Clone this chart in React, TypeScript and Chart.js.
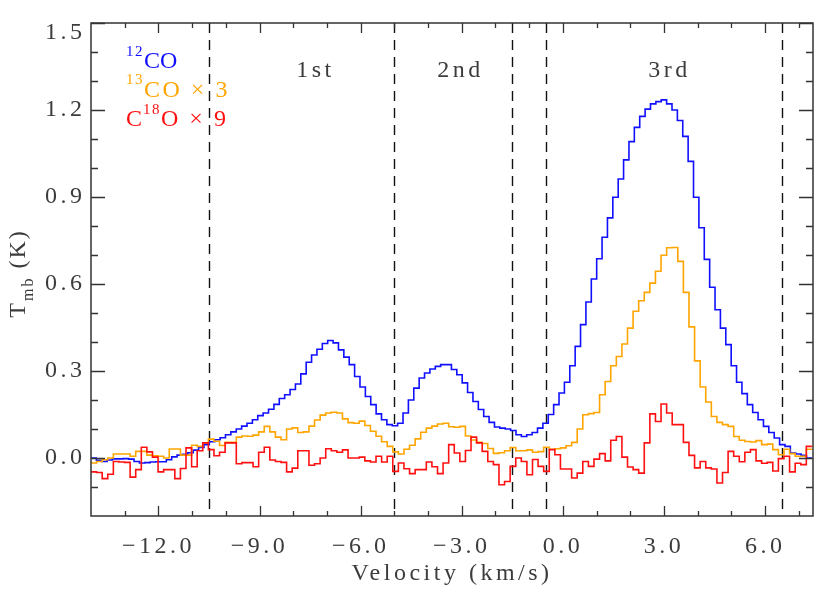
import React, { useEffect, useRef } from 'react';
import { Chart, registerables } from 'chart.js';

Chart.register(...registerables);

// ---- data ----
const V_START = -14.0; // km/s, left edge of first channel
const DV_12CO = 0.1596; // channel width of 12CO spectrum
const DV_13CO = 0.1658; // channel width of 13CO / C18O spectra

const co12: number[] = [
  0.000, -0.008, -0.012, -0.007, -0.003, -0.003, -0.002, -0.004, -0.012, -0.017,
  -0.016, -0.014, -0.013, -0.013, -0.006, 0.004, 0.010, 0.013, 0.018, 0.027,
  0.036, 0.046, 0.056, 0.063, 0.070, 0.080, 0.090, 0.100, 0.110, 0.120,
  0.132, 0.146, 0.155, 0.168, 0.185, 0.205, 0.218, 0.236, 0.255, 0.290,
  0.330, 0.355, 0.375, 0.395, 0.405, 0.397, 0.373, 0.348, 0.322, 0.281,
  0.245, 0.212, 0.184, 0.152, 0.132, 0.115, 0.111, 0.120, 0.155, 0.200,
  0.241, 0.276, 0.293, 0.307, 0.316, 0.322, 0.322, 0.305, 0.287, 0.259,
  0.226, 0.195, 0.167, 0.143, 0.123, 0.107, 0.103, 0.100, 0.095, 0.080,
  0.074, 0.080, 0.088, 0.103, 0.120, 0.150, 0.184, 0.224, 0.261, 0.318,
  0.385, 0.460, 0.538, 0.617, 0.687, 0.761, 0.828, 0.899, 0.962, 1.028,
  1.091, 1.140, 1.178, 1.203, 1.221, 1.229, 1.235, 1.221, 1.200, 1.164,
  1.109, 1.023, 0.899, 0.794, 0.685, 0.589, 0.511, 0.448, 0.391, 0.318,
  0.261, 0.222, 0.184, 0.157, 0.132, 0.109, 0.088, 0.069, 0.046, 0.040,
  0.017, 0.014, 0.009, 0.000,
];

const co13x3: number[] = [
  -0.017, -0.012, -0.006, 0.000, 0.014, 0.014, 0.014, 0.006, 0.023, 0.023,
  0.010, 0.008, 0.006, 0.000, 0.031, 0.031, 0.010, 0.010, 0.044, 0.040,
  0.052, 0.065, 0.058, 0.043, 0.054, 0.054, 0.072, 0.076, 0.075, 0.079,
  0.090, 0.109, 0.090, 0.072, 0.063, 0.100, 0.104, 0.088, 0.090, 0.110,
  0.131, 0.148, 0.155, 0.158, 0.155, 0.135, 0.122, 0.120, 0.127, 0.112,
  0.092, 0.075, 0.056, 0.040, 0.021, 0.014, 0.030, 0.044, 0.066, 0.089,
  0.103, 0.110, 0.117, 0.120, 0.108, 0.106, 0.109, 0.076, 0.062, 0.054,
  0.050, 0.033, 0.016, 0.018, 0.025, 0.036, 0.025, 0.025, 0.028, 0.020,
  0.022, 0.037, 0.030, 0.032, 0.035, 0.042, 0.054, 0.100, 0.149, 0.153,
  0.157, 0.218, 0.264, 0.318, 0.350, 0.393, 0.448, 0.506, 0.542, 0.571,
  0.603, 0.644, 0.699, 0.725, 0.726, 0.678, 0.571, 0.452, 0.335, 0.245,
  0.193, 0.143, 0.123, 0.115, 0.109, 0.074, 0.061, 0.057, 0.055, 0.060,
  0.046, 0.048, 0.029, 0.011, 0.030, 0.015, 0.006, 0.006, 0.030,
];

const c18ox9: number[] = [
  -0.048, -0.050, -0.071, -0.056, -0.012, -0.014, -0.015, -0.066, -0.040, 0.037,
  0.021, 0.003, -0.048, -0.040, -0.040, -0.071, -0.036, 0.035, -0.030, 0.025,
  0.052, 0.029, 0.008, 0.020, 0.052, 0.052, -0.020, -0.016, -0.016, -0.030,
  0.020, 0.037, -0.007, -0.012, -0.015, -0.048, -0.035, 0.025, 0.025, -0.025,
  -0.020, 0.000, 0.032, 0.025, 0.020, 0.028, 0.000, 0.000, 0.003, -0.010,
  -0.014, 0.006, -0.014, 0.006, -0.046, -0.017, -0.037, -0.054, -0.040, -0.040,
  -0.014, -0.030, -0.054, -0.017, 0.046, 0.017, -0.012, 0.026, 0.072, 0.052,
  0.023, -0.012, -0.023, -0.092, -0.081, -0.029, 0.000, -0.012, -0.058, -0.005,
  -0.029, -0.046, 0.029, 0.011, -0.038, -0.038, -0.069, -0.052, -0.012, -0.029,
  -0.004, 0.015, -0.010, 0.061, 0.074, 0.003, -0.031, -0.040, -0.052, 0.052,
  0.152, 0.126, 0.186, 0.155, 0.115, 0.115, 0.054, 0.009, -0.034, -0.012,
  -0.034, -0.038, -0.086, -0.050, 0.023, 0.006, -0.013, 0.020, 0.029, -0.010,
  -0.018, -0.015, -0.045, -0.002, 0.006, -0.048, -0.018, -0.023, 0.040,
];

const xTicks: number[] = [-12, -9, -6, -3, 0, 3, 6];
const xMinorTicks: number[] = [-13, -11, -10, -8, -7, -5, -4, -2, -1, 1, 2, 4, 5, 7];
const yTicks: number[] = [0.0, 0.3, 0.6, 0.9, 1.2, 1.5];
const yMinorTicks: number[] = [-0.1, 0.1, 0.2, 0.4, 0.5, 0.7, 0.8, 1.0, 1.1, 1.3, 1.4];
const boundaryVelocities: number[] = [-10.5, -5.0, -1.5, -0.5, 6.5];
const regionNames: string[] = ['1st', '2nd', '3rd'];
const regionCenters: number[] = [-7.4, -3.1, 3.1];
const regionLabelT = 1.315;

const X_MIN = -14.0;
const X_MAX = 7.42;
const Y_MIN = -0.2;
const Y_MAX = 1.5;

const BLUE = '#1010ff';
const ORANGE = '#ffa500';
const RED = '#ff1010';
const TEXT = '#3c3c3c';
const FONT = '"Liberation Serif", "Times New Roman", serif';
const SPACING = '3.5px';

function toSteps(vals: number[], dv: number) {
  const pts = vals.map((y, i) => ({ x: V_START + i * dv, y }));
  pts.push({ x: V_START + vals.length * dv, y: vals[vals.length - 1] });
  return pts;
}

function fmtX(v: number): string {
  const s = Math.abs(v).toFixed(1);
  return v < 0 ? '\u2212' + s : s;
}

const framePlugin = {
  id: 'idlFrame',
  beforeDraw(chart: any) {
    (chart.ctx as any).letterSpacing = SPACING;
  },
  beforeDatasetsDraw(chart: any) {
    const { ctx, chartArea } = chart;
    const xs = chart.scales.x;
    ctx.save();
    ctx.strokeStyle = '#111';
    ctx.lineWidth = 1.4;
    ctx.setLineDash([10, 7]);
    boundaryVelocities.forEach((v) => {
      const px = Math.round(xs.getPixelForValue(v)) + 0.5;
      ctx.beginPath();
      ctx.moveTo(px, chartArea.top);
      ctx.lineTo(px, chartArea.bottom);
      ctx.stroke();
    });
    ctx.restore();
  },
  afterDraw(chart: any) {
    const { ctx, chartArea } = chart;
    const xs = chart.scales.x;
    const ys = chart.scales.y;
    const { left, right, top, bottom } = chartArea;
    ctx.save();
    // frame
    ctx.strokeStyle = '#333';
    ctx.lineWidth = 1.5;
    ctx.setLineDash([]);
    ctx.strokeRect(left, top, right - left, bottom - top);
    // inward ticks
    ctx.lineWidth = 1.3;
    const drawX = (vals: number[], len: number) => {
      vals.forEach((v) => {
        const px = Math.round(xs.getPixelForValue(v)) + 0.5;
        ctx.beginPath();
        ctx.moveTo(px, bottom);
        ctx.lineTo(px, bottom - len);
        ctx.moveTo(px, top);
        ctx.lineTo(px, top + len);
        ctx.stroke();
      });
    };
    const drawY = (vals: number[], len: number) => {
      vals.forEach((v) => {
        const py = Math.round(ys.getPixelForValue(v)) + 0.5;
        ctx.beginPath();
        ctx.moveTo(left, py);
        ctx.lineTo(left + len, py);
        ctx.moveTo(right, py);
        ctx.lineTo(right - len, py);
        ctx.stroke();
      });
    };
    drawX(xTicks, 10);
    drawX(xMinorTicks, 5);
    drawY(yTicks, 14);
    drawY(yMinorTicks, 7);

    // top y tick label (IDL places it just inside)
    ctx.fillStyle = TEXT;
    ctx.font = `24px ${FONT}`;
    (ctx as any).letterSpacing = SPACING;
    ctx.textAlign = 'right';
    ctx.textBaseline = 'middle';
    const topVal = yTicks[yTicks.length - 1];
    ctx.fillText(topVal.toFixed(1), left - 5.5, ys.getPixelForValue(topVal) + 10);

    // region labels
    ctx.textAlign = 'center';
    ctx.textBaseline = 'alphabetic';
    regionNames.forEach((name, i) => {
      ctx.fillText(name, xs.getPixelForValue(regionCenters[i]) + 2, ys.getPixelForValue(regionLabelT));
    });

    // legend
    ctx.textAlign = 'left';
    const lx = 126;
    const big = `24px ${FONT}`;
    const small = `15px ${FONT}`;
    const seg = (txt: string, font: string, x: number, y: number, color: string) => {
      ctx.font = font;
      ctx.fillStyle = color;
      ctx.fillText(txt, x, y);
      return x + ctx.measureText(txt).width;
    };
    (ctx as any).letterSpacing = '1.5px';
    let x = seg('12', small, lx, 56, BLUE);
    (ctx as any).letterSpacing = '0px';
    seg('CO', big, x, 67.5, BLUE);

    (ctx as any).letterSpacing = '1.5px';
    x = seg('13', small, lx, 84, ORANGE);
    (ctx as any).letterSpacing = '2.5px';
    seg('CO \u00d7 3', big, x, 96.5, ORANGE);

    (ctx as any).letterSpacing = '0px';
    x = seg('C', big, lx, 126, RED);
    (ctx as any).letterSpacing = '1.5px';
    x = seg('18', small, x + 1, 113.5, RED);
    (ctx as any).letterSpacing = '2.5px';
    seg('O \u00d7 9', big, x, 126, RED);

    // y axis title with subscript
    ctx.fillStyle = TEXT;
    ctx.save();
    const cy = (top + bottom) / 2 + 4;
    ctx.translate(25, cy);
    ctx.rotate(-Math.PI / 2);
    (ctx as any).letterSpacing = '2px';
    ctx.font = big;
    const wT = ctx.measureText('T').width;
    const wK = ctx.measureText(' (K)').width;
    ctx.font = `16px ${FONT}`;
    const wMb = ctx.measureText('mb').width;
    let tx = -(wT + wMb + wK) / 2;
    ctx.font = big;
    ctx.fillText('T', tx, 0);
    tx += wT;
    ctx.font = `16px ${FONT}`;
    ctx.fillText('mb', tx, 8);
    tx += wMb;
    ctx.font = big;
    ctx.fillText(' (K)', tx, 0);
    ctx.restore();

    ctx.restore();
  },
};

export default function App() {
  const ref = useRef<HTMLCanvasElement | null>(null);

  useEffect(() => {
    if (!ref.current) return;
    const chart = new Chart(ref.current, {
      type: 'line',
      data: {
        datasets: [
          {
            label: 'C18O x 9',
            data: toSteps(c18ox9, DV_13CO),
            borderColor: RED,
            borderWidth: 1.6,
            stepped: true,
            pointRadius: 0,
            fill: false,
            order: 0,
            clip: 0,
          },
          {
            label: '13CO x 3',
            data: toSteps(co13x3, DV_13CO),
            borderColor: ORANGE,
            borderWidth: 1.6,
            stepped: true,
            pointRadius: 0,
            fill: false,
            order: 1,
            clip: 0,
          },
          {
            label: '12CO',
            data: toSteps(co12, DV_12CO),
            borderColor: BLUE,
            borderWidth: 1.6,
            stepped: true,
            pointRadius: 0,
            fill: false,
            order: 2,
            clip: 0,
          },
        ] as any,
      },
      options: {
        responsive: false,
        animation: false,
        devicePixelRatio: 1,
        parsing: false as any,
        normalized: true,
        layout: { padding: { top: 23, right: 17, left: 0, bottom: 0 } },
        plugins: {
          legend: { display: false },
          tooltip: { enabled: false },
        },
        elements: { point: { radius: 0 }, line: { tension: 0 } },
        scales: {
          x: {
            type: 'linear',
            min: X_MIN,
            max: X_MAX,
            grid: { display: false, drawTicks: false },
            border: { display: false },
            afterBuildTicks: (s: any) => {
              s.ticks = xTicks.map((v) => ({ value: v }));
            },
            afterFit: (s: any) => {
              s.height = 77;
            },
            ticks: {
              autoSkip: false,
              maxRotation: 0,
              padding: 16,
              color: TEXT,
              font: { family: FONT, size: 24 },
              callback: (v: any) => fmtX(Number(v)),
            },
            title: {
              display: true,
              text: 'Velocity (km/s)',
              color: TEXT,
              font: { family: FONT, size: 24 },
              padding: { top: 0, bottom: 5 },
            },
          },
          y: {
            type: 'linear',
            min: Y_MIN,
            max: Y_MAX,
            grid: { display: false, drawTicks: false },
            border: { display: false },
            afterBuildTicks: (s: any) => {
              s.ticks = yTicks.map((v) => ({ value: v }));
            },
            afterFit: (s: any) => {
              s.width = 91;
            },
            ticks: {
              autoSkip: false,
              padding: 5.5,
              color: TEXT,
              font: { family: FONT, size: 24 },
              callback: (v: any) => (Number(v) === yTicks[yTicks.length - 1] ? '' : Number(v).toFixed(1)),
            },
          },
        },
      } as any,
      plugins: [framePlugin],
    });
    return () => chart.destroy();
  }, []);

  return (
    <div style={{ position: 'absolute', left: 0, top: 0, width: 830, height: 593 }}>
      <canvas ref={ref} width={830} height={593} style={{ display: 'block' }} />
    </div>
  );
}
